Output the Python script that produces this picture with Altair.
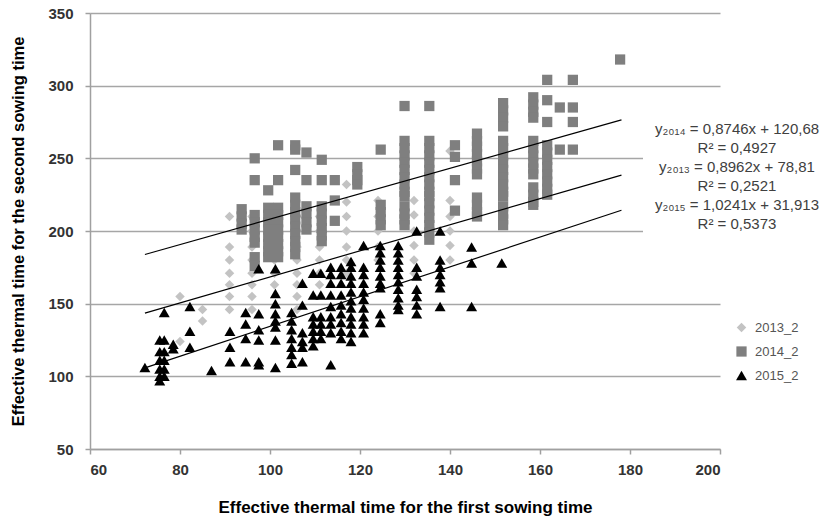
import altair as alt
import pandas as pd

# ---------------- data ----------------
series_names = ["2013_2", "2014_2", "2015_2"]
series_colors = ["#c3c3c3", "#7f7f7f", "#000000"]
series_shapes = ["diamond", "square", "triangle-up"]
series_sizes = [90, 120, 140]

x_ticks = [60, 80, 100, 120, 140, 160, 180, 200]
y_ticks = [50, 100, 150, 200, 250, 300, 350]

# 2013_2 (diamonds): x column -> y values
s2013_x = [80, 85, 91, 96, 101, 106, 111, 117, 124, 132, 140]
s2013_y = [
    [155, 124],
    [146, 138],
    [210, 189, 180, 171, 163, 155, 146],
    [210, 200, 189, 180, 171, 163, 155, 146],
    [189, 180, 171, 163],
    [210, 200, 189, 180, 171, 163, 155, 146],
    [210, 200, 189, 180, 171, 163],
    [232, 220, 210, 200, 189, 180, 171],
    [221, 210, 200, 189, 180],
    [221, 211, 200, 190, 180, 171],
    [255, 221, 210, 200, 190, 180],
]

# 2014_2 (squares)
s2014_x = [93.7, 96.6, 99.6, 101.8, 105.6, 108.1, 111.5, 114.4, 119.4, 124.6,
           129.9, 135.4, 141.1, 146.0, 151.8, 158.5, 161.6, 164.4, 167.3, 177.8]
s2014_y = [
    [215, 210, 205, 201],
    [250, 235, 211, 206, 201, 196, 192, 182, 176],
    [228, 216, 211, 206, 201, 196, 191, 186, 182],
    [259, 235, 216, 211, 206, 201, 196, 191, 186, 182],
    [259, 256, 242, 223, 218, 213, 208, 203, 198, 193, 189, 184],
    [254, 235, 217, 212, 206, 201],
    [249, 235, 217, 212, 207, 202, 197, 193],
    [235, 221, 207],
    [244, 239, 235, 232],
    [256, 218, 213, 208, 204],
    [286, 262, 257, 252, 247, 242, 237, 232, 227, 224, 217, 212, 208, 204],
    [286, 262, 257, 252, 247, 242, 237, 232, 227, 224, 219, 214, 209, 204, 199, 194],
    [259, 251, 235, 214],
    [267, 262, 258, 253, 248, 243, 239, 223, 218, 213, 210],
    [288, 283, 278, 272, 262, 257, 252, 247, 242, 237, 232, 227, 224, 217, 212, 208, 204],
    [292, 287, 282, 278, 262, 257, 252, 247, 243, 239, 230, 225, 220, 218],
    [304, 290, 275, 259, 254, 249, 244, 239, 234, 229, 225],
    [285, 256],
    [304, 285, 275, 256],
    [318],
]

# 2015_2 (triangles)
s2015_x = [72.2, 75.5, 76.5, 78.5, 82.2, 87.0, 91.1, 94.6, 97.5, 101.2, 104.8,
           107.2, 109.6, 111.3, 113.5, 115.8, 118.0, 120.8, 124.5, 128.5, 132.6,
           137.8, 144.8, 151.5]
s2015_y = [
    [106],
    [125, 117, 111, 105, 100, 97],
    [144, 125, 117, 111, 105, 100],
    [122, 119],
    [148, 131, 120],
    [104],
    [131, 120, 110],
    [144, 136, 126, 110],
    [174, 143, 132, 125, 110, 108],
    [174, 157, 150, 143, 138, 134, 125, 106],
    [144, 138, 132, 126, 120, 115, 109],
    [164, 149, 130, 124, 120, 110],
    [171, 156, 141, 136, 131, 126, 121],
    [171, 156, 141, 136, 131, 126],
    [175, 170, 164, 156, 148, 141, 136, 130, 108],
    [175, 170, 164, 156, 149, 143, 137, 131, 126],
    [179, 175, 169, 164, 158, 152, 147, 141, 136, 130, 124],
    [190, 175, 170, 164, 158, 153, 147, 141, 136, 130],
    [190, 185, 180, 175, 169, 164, 161, 143, 137],
    [190, 185, 180, 175, 170, 165, 160, 154, 149, 146],
    [200, 175, 169, 160, 155, 149, 143],
    [200, 180, 175, 170, 165, 161, 148],
    [189, 178, 148],
    [178],
]

# trend lines (from the equations printed on the chart)
trend_series = ["2013_2", "2014_2", "2015_2"]
trend_slope = [0.8962, 0.8746, 1.0241]
trend_intercept = [78.81, 120.68, 31.913]
trend_x_range = [72.2, 178.1]

equation_lines = [
    "y\u2082\u2080\u2081\u2084 = 0,8746x + 120,68",
    "R\u00b2 = 0,4927",
    "y\u2082\u2080\u2081\u2083 = 0,8962x + 78,81",
    "R\u00b2 = 0,2521",
    "y\u2082\u2080\u2081\u2085 = 1,0241x + 31,913",
    "R\u00b2 = 0,5373",
]

x_title = "Effective thermal time for the first sowing time"
y_title = "Effective thermal time for the second sowing time"

# ---------------- tables ----------------
rows = []
for name, xs, ys in [("2013_2", s2013_x, s2013_y), ("2014_2", s2014_x, s2014_y), ("2015_2", s2015_x, s2015_y)]:
    for xv, col in zip(xs, ys):
        for yv in col:
            rows.append({"series": name, "x": xv, "y": yv})
df_pts = pd.DataFrame(rows)
df_pts["order"] = range(len(df_pts))

line_rows = []
for name, a, b in zip(trend_series, trend_slope, trend_intercept):
    for xv in trend_x_range:
        line_rows.append({"series": name, "x": xv, "y": a * xv + b})
df_lines = pd.DataFrame(line_rows)

one = pd.DataFrame({"k": [0]})

FONT = "Liberation Sans"

x_enc = alt.X("x:Q", scale=alt.Scale(domain=[60, 200], nice=False, zero=False),
              axis=alt.Axis(values=x_ticks, title=x_title, grid=False, format="d",
                            domainColor="#a0a0a0", domainWidth=1.5,
                            tickColor="#a0a0a0", tickWidth=1.5, tickSize=5,
                            labelFont=FONT, labelFontWeight="bold", labelFontSize=15,
                            labelColor="#333333", labelPadding=8,
                            titleFont=FONT, titleFontWeight="bold", titleFontSize=17,
                            titleColor="#000000", titleBaseline="alphabetic",
                            titleX=315, titleY=63, titleAlign="center"))
y_enc = alt.Y("y:Q", scale=alt.Scale(domain=[50, 350], nice=False, zero=False),
              axis=alt.Axis(values=y_ticks, title=y_title, grid=True, format="d",
                            gridColor="#a6a6a6", gridWidth=1.5,
                            domainColor="#a0a0a0", domainWidth=1.5,
                            tickColor="#a0a0a0", tickWidth=1.5, tickSize=5,
                            labelFont=FONT, labelFontWeight="bold", labelFontSize=15,
                            labelColor="#333333", labelPadding=12,
                            titleFont=FONT, titleFontWeight="bold", titleFontSize=16.5,
                            titleColor="#000000", titleAngle=270, titleBaseline="middle",
                            titleX=-72, titleY=218, titleAlign="center"))

points = alt.Chart(df_pts).mark_point(filled=True, opacity=1, strokeWidth=0).encode(
    x=x_enc,
    y=y_enc,
    color=alt.Color("series:N", scale=alt.Scale(domain=series_names, range=series_colors),
                    legend=alt.Legend(title=None, orient="none", legendX=645, legendY=308,
                                      labelFont=FONT, labelFontSize=13, labelColor="#555555",
                                      rowPadding=10, symbolStrokeWidth=0, labelOffset=7)),
    shape=alt.Shape("series:N", scale=alt.Scale(domain=series_names, range=series_shapes)),
    size=alt.Size("series:N", scale=alt.Scale(domain=series_names, range=series_sizes)),
    order=alt.Order("order:Q"),
)

lines = alt.Chart(df_lines).mark_line(color="#000000", strokeWidth=1.2).encode(
    x="x:Q", y="y:Q", detail="series:N"
)

box = alt.Chart(one).mark_rect(color="white").encode(
    x=alt.value(553), x2=alt.value(740), y=alt.value(103), y2=alt.value(228)
)

eq = alt.Chart(one).mark_text(
    text=equation_lines, font=FONT, fontSize=15, color="#404040",
    align="center", baseline="top", lineHeight=19
).encode(x=alt.value(647), y=alt.value(109))

chart = alt.layer(points, lines, box, eq).properties(
    width=630, height=436,
    padding={"left": 90, "top": 13, "right": 108, "bottom": 69},
    autosize=alt.AutoSizeParams(type="none"),
    background="white",
).configure_view(stroke=None)

chart.save("out.html", embed_options={"renderer": "svg", "actions": False})
